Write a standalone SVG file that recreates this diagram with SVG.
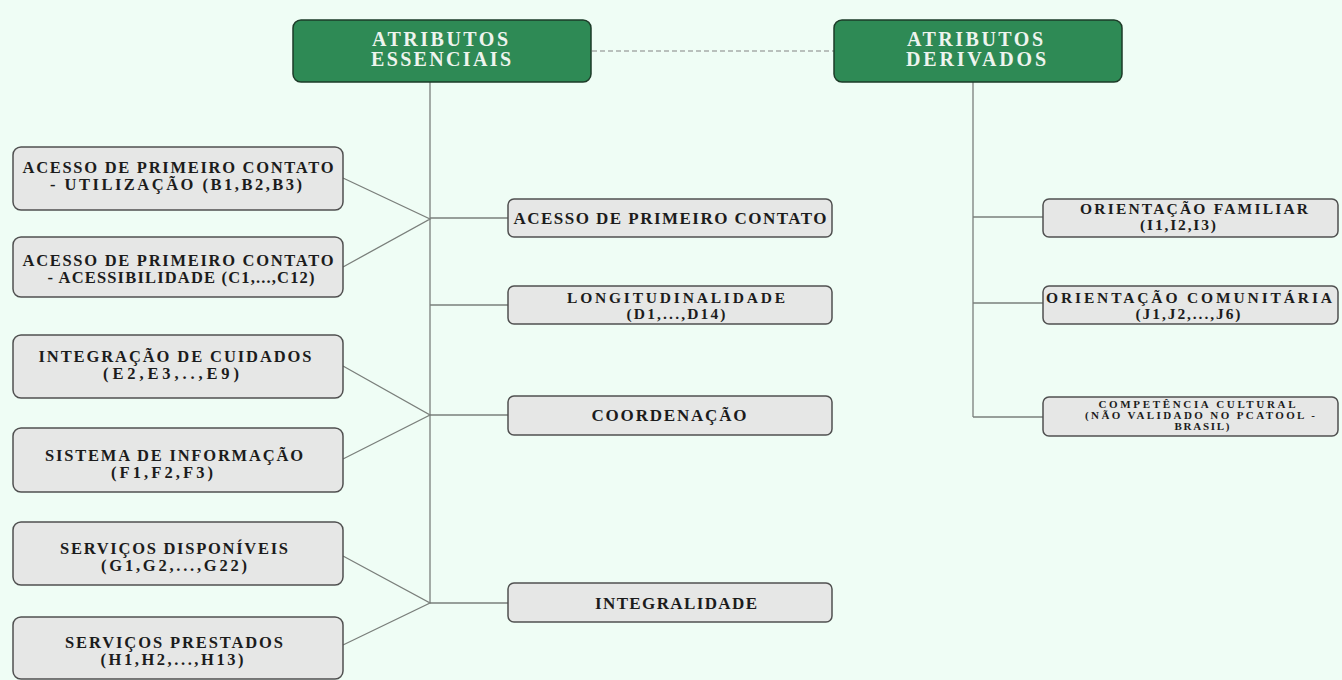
<svg xmlns="http://www.w3.org/2000/svg" width="1342" height="680" viewBox="0 0 1342 680">
<style>
.bg{fill:#effdf5}
.g{fill:#2e8a55;stroke:#1d3b28;stroke-width:1.5}
.b{fill:#e6e7e6;stroke:#505050;stroke-width:1.5}
.t{font-family:"Liberation Serif","Times New Roman",serif;font-weight:bold;fill:#1c1c1c;text-anchor:middle;font-size:16.5px}
.tw{font-family:"Liberation Serif","Times New Roman",serif;font-weight:bold;fill:#eef4ee;text-anchor:middle;font-size:20px}
.tm{font-size:15.5px}
.t1{font-size:17px}
.ts{font-size:11px}
.c{stroke:#7a7f7b;stroke-width:1.3;fill:none}
.d{stroke:#a8aca9;stroke-width:1.3;stroke-dasharray:5 3;fill:none}
</style>
<rect class="bg" x="0" y="0" width="1342" height="680"/>
<g id="connectors">
<line class="d" x1="592" y1="51" x2="834" y2="51"/>
<line class="c" x1="430" y1="82" x2="430" y2="603"/>
<line class="c" x1="973" y1="82" x2="973" y2="417"/>
<polyline class="c" points="343,178 430,219 343,267"/>
<polyline class="c" points="343,366 430,415 343,459"/>
<polyline class="c" points="343,556 430,603 343,645"/>
<line class="c" x1="430" y1="218" x2="508" y2="218"/>
<line class="c" x1="430" y1="305" x2="508" y2="305"/>
<line class="c" x1="430" y1="415" x2="508" y2="415"/>
<line class="c" x1="430" y1="603" x2="508" y2="603"/>
<line class="c" x1="973" y1="217" x2="1043" y2="217"/>
<line class="c" x1="973" y1="303" x2="1043" y2="303"/>
<line class="c" x1="973" y1="417" x2="1043" y2="417"/>
</g>
<g id="essenciais">
<rect class="g" x="293" y="20" width="298" height="62" rx="8"/>
<text class="tw" x="440" y="46" textLength="136">ATRIBUTOS</text>
<text class="tw" x="441" y="66" textLength="140">ESSENCIAIS</text>
</g>
<g id="derivados">
<rect class="g" x="834" y="20" width="288" height="62" rx="8"/>
<text class="tw" x="975" y="46" textLength="136">ATRIBUTOS</text>
<text class="tw" x="976" y="66" textLength="140">DERIVADOS</text>
</g>
<g id="acesso-utilizacao">
<rect class="b" x="13" y="147" width="330" height="63" rx="8"/>
<text class="t" x="178" y="173" textLength="311">ACESSO DE PRIMEIRO CONTATO</text>
<text class="t" x="176" y="190" textLength="252">- UTILIZAÇÃO (B1,B2,B3)</text>
</g>
<g id="acesso-acessibilidade">
<rect class="b" x="13" y="237" width="330" height="60" rx="8"/>
<text class="t" x="178" y="266" textLength="311">ACESSO DE PRIMEIRO CONTATO</text>
<text class="t" x="181" y="283" textLength="267">- ACESSIBILIDADE (C1,...,C12)</text>
</g>
<g id="integracao">
<rect class="b" x="13" y="335" width="330" height="63" rx="8"/>
<text class="t" x="175" y="362" textLength="273">INTEGRAÇÃO DE CUIDADOS</text>
<text class="t" x="171" y="379" textLength="136">(E2,E3,..,E9)</text>
</g>
<g id="sistema">
<rect class="b" x="13" y="428" width="330" height="64" rx="8"/>
<text class="t" x="174" y="461" textLength="258">SISTEMA DE INFORMAÇÃO</text>
<text class="t" x="162" y="478" textLength="102">(F1,F2,F3)</text>
</g>
<g id="servicos-disponiveis">
<rect class="b" x="13" y="522" width="330" height="63" rx="8"/>
<text class="t" x="174" y="554" textLength="228">SERVIÇOS DISPONÍVEIS</text>
<text class="t" x="174" y="571" textLength="146">(G1,G2,...,G22)</text>
</g>
<g id="servicos-prestados">
<rect class="b" x="13" y="617" width="330" height="62" rx="8"/>
<text class="t" x="174" y="648" textLength="218">SERVIÇOS PRESTADOS</text>
<text class="t" x="172" y="665" textLength="143">(H1,H2,...,H13)</text>
</g>
<g id="acesso">
<rect class="b" x="508" y="199" width="324" height="38" rx="6"/>
<text class="t t1" x="670" y="224" textLength="313">ACESSO DE PRIMEIRO CONTATO</text>
</g>
<g id="longitudinalidade">
<rect class="b" x="508" y="286" width="324" height="38" rx="6"/>
<text class="t tm" x="676" y="303" textLength="218">LONGITUDINALIDADE</text>
<text class="t tm" x="676" y="319" textLength="99">(D1,...,D14)</text>
</g>
<g id="coordenacao">
<rect class="b" x="508" y="396" width="324" height="39" rx="6"/>
<text class="t t1" x="669" y="421" textLength="155">COORDENAÇÃO</text>
</g>
<g id="integralidade">
<rect class="b" x="508" y="583" width="324" height="39" rx="6"/>
<text class="t t1" x="676" y="609" textLength="162">INTEGRALIDADE</text>
</g>
<g id="orientacao-familiar">
<rect class="b" x="1043" y="199" width="295" height="38" rx="6"/>
<text class="t tm" x="1194" y="214" textLength="228">ORIENTAÇÃO FAMILIAR</text>
<text class="t tm" x="1178" y="230" textLength="76">(I1,I2,I3)</text>
</g>
<g id="orientacao-comunitaria">
<rect class="b" x="1043" y="286" width="295" height="38" rx="6"/>
<text class="t tm" x="1189" y="303" textLength="286">ORIENTAÇÃO COMUNITÁRIA</text>
<text class="t tm" x="1188" y="319" textLength="105">(J1,J2,...,J6)</text>
</g>
<g id="competencia-cultural">
<rect class="b" x="1043" y="397" width="295" height="39" rx="6"/>
<text class="t ts" x="1197" y="408" textLength="197">COMPETÊNCIA CULTURAL</text>
<text class="t ts" x="1200" y="419" textLength="230">(NÃO VALIDADO NO PCATOOL -</text>
<text class="t ts" x="1202" y="430" textLength="55">BRASIL)</text>
</g>
</svg>
